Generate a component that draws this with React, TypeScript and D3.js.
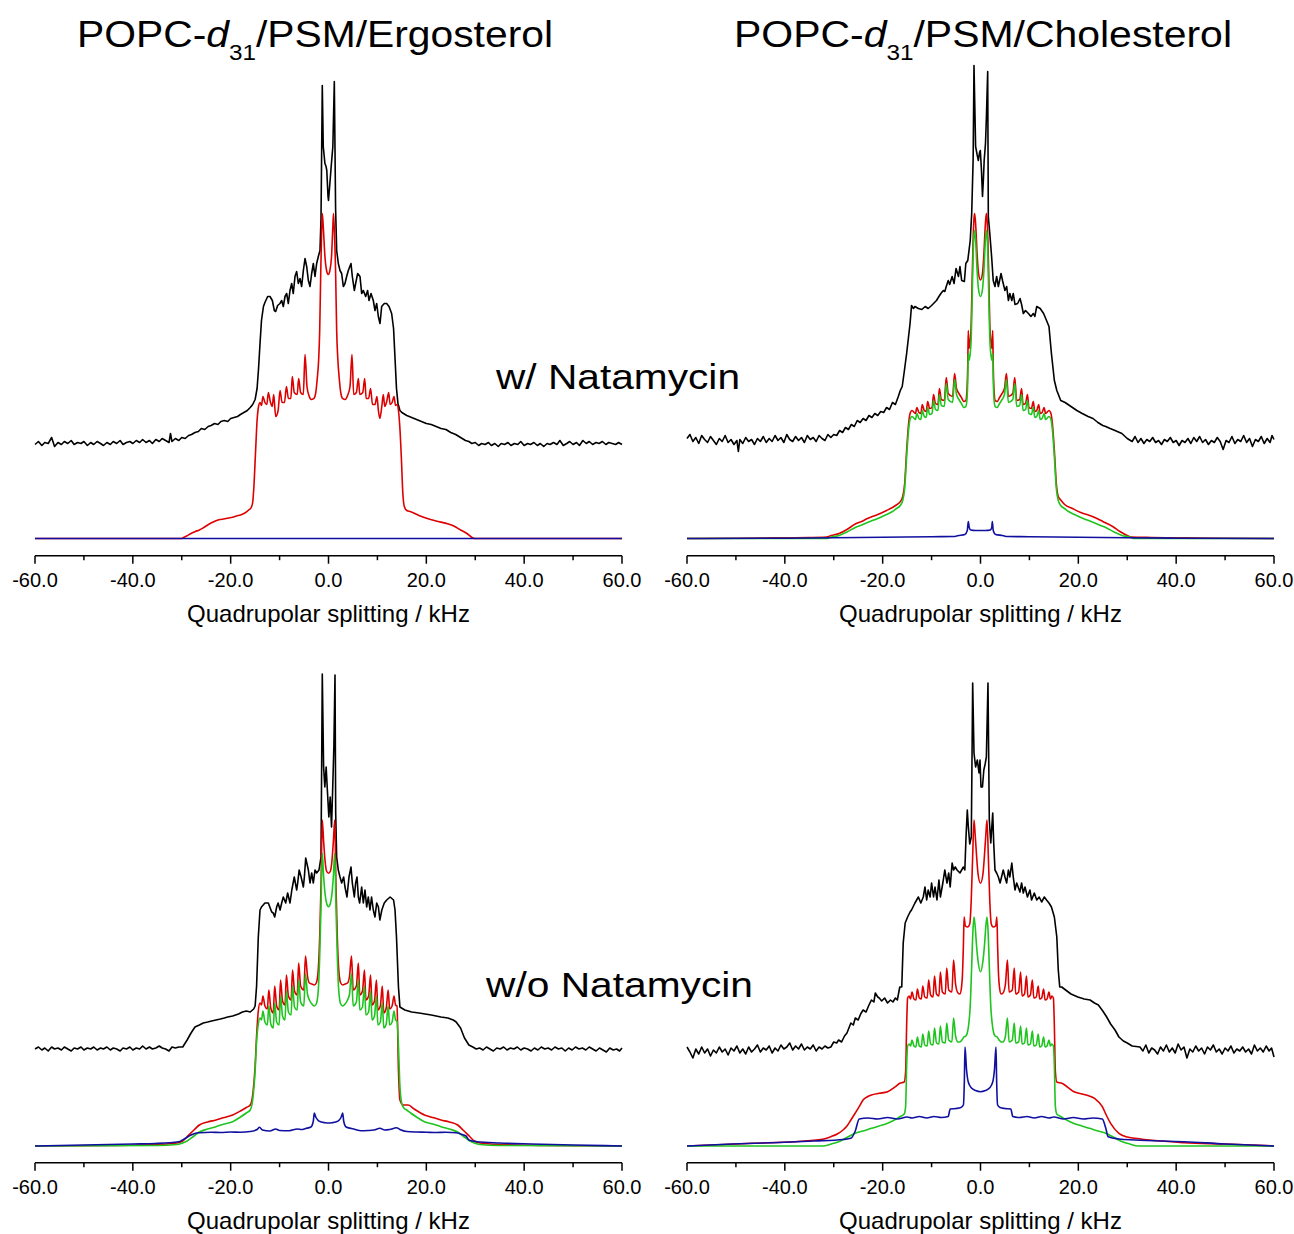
import React from "react";
import * as d3 from "d3";

type Pt = [number, number];

// ---------- axis / text content ----------
const majorTicks = [-60, -40, -20, 0, 20, 40, 60];
const minorTicks = [-50, -30, -10, 10, 30, 50];
const xAxisTitle = "Quadrupolar splitting / kHz";
const sterols = ["Ergosterol", "Cholesterol"];
const conditions = ["w/ Natamycin", "w/o Natamycin"];

// ---------- data: [splitting kHz, intensity (a.u. above baseline)] ----------
// Ergosterol, with natamycin
const ergoNataBlack: Pt[] = [
  [-60,94],[-59.3,97],[-58.6,93],[-58,96],[-57.3,95],[-56.6,101],[-56,92],[-55.3,96],[-54.6,94],[-54,97],[-53.3,95],[-52.6,98],[-52,94],[-51.3,96],[-50.6,95],[-50,97],[-49.3,93],[-48.6,96],[-48,94],[-47.3,97],[-46.6,95],[-46,93],[-45.3,96],[-44.6,94],[-44,97],[-43.3,95],[-42.6,98],[-42,94],[-41.3,96],[-40.6,97],[-40,95],[-39.3,98],[-38.6,96],[-38,99],[-37.3,96],[-36.6,98],[-36,95],[-35.3,99],[-34.6,97],[-34,100],[-33.3,98],[-32.6,96],[-32.3,105],[-32,97],[-31.3,100],[-30.6,98],[-30,101],[-29.3,100],[-28.6,103],[-28,104],[-27.3,106],[-26.6,107],[-26,110],[-25.3,109],[-24.6,112],[-24,113],[-23.3,115],[-22.6,114],[-22,117],[-21.3,118],[-20.6,117],[-20,120],[-19.3,121],[-18.6,122],[-18,124],[-17.3,126],[-16.6,128],[-16,131],[-15.5,134],[-15,139],[-14.6,150],[-14.3,170],[-14,195],[-13.7,218],[-13.3,232],[-13,236],[-12.44,242],[-11.96,242],[-11.48,238],[-11.07,228],[-10.8,227],[-10.4,233],[-9.92,235],[-9.57,238],[-9.24,232],[-8.89,242],[-8.55,245],[-8.21,235],[-7.87,248],[-7.53,255],[-7.2,245],[-6.85,262],[-6.51,267],[-6.17,255],[-5.83,260],[-5.49,252],[-5.14,268],[-4.8,280],[-4.46,272],[-4.12,258],[-3.78,252],[-3.44,265],[-3.1,275],[-2.76,262],[-2.42,275],[-2.08,282],[-1.74,288],[-1.53,320],[-1.27,453],[-1.07,392],[-0.73,375],[-0.5,372],[-0.35,368],[-0.1,342],[0,338],[0.28,355],[0.55,372],[0.89,392],[1.19,457],[1.45,330],[1.67,288],[2.01,275],[2.35,268],[2.69,265],[3.03,252],[3.37,255],[3.71,262],[4.05,268],[4.6,275],[4.87,262],[5.28,248],[5.55,255],[5.96,265],[6.44,262],[6.78,245],[7.12,248],[7.6,242],[8,248],[8.28,238],[8.69,245],[9.16,238],[9.5,228],[9.85,235],[10.19,222],[10.53,215],[10.87,232],[11.41,235],[11.89,235],[12.37,232],[12.91,225],[13.3,210],[13.6,180],[13.9,150],[14.2,135],[14.6,128],[15,126],[16,123],[17,121],[18,119],[19,117],[20,115],[21,114],[22,112],[23,110],[24,109],[25,106],[26,104],[27,101],[28,98],[28.7,97],[29.3,95],[30,96],[30.7,93],[31.3,95],[32,94],[32.7,96],[33.3,93],[34,95],[34.7,92],[35.3,95],[36,94],[36.7,96],[37.3,93],[38,95],[38.7,94],[39.3,97],[40,93],[40.7,95],[41.3,94],[42,96],[42.7,93],[43.3,95],[44,92],[44.7,95],[45.3,94],[46,96],[46.7,94],[47.3,98],[48,93],[48.7,95],[49.3,97],[50,94],[50.7,96],[51.3,93],[52,98],[52.7,95],[53.3,97],[54,94],[54.7,96],[55.3,95],[56,97],[56.7,94],[57.3,96],[58,95],[58.7,94],[59.3,96],[60,94]
];
const ergoNataRed: Pt[] = [
  [-60,0],[-30,0],[-29.8,0.5],[-29,2.5],[-28.1,5],[-27.2,7],[-26.4,8.5],[-25.5,11],[-24.7,13.5],[-23.8,16],[-23,17.8],[-22.2,19],[-21.4,19.5],[-20.5,20.5],[-19.6,21.2],[-18.8,22.5],[-18,23.5],[-17.1,25.5],[-16.3,28.5],[-15.8,31],[-15.5,36],[-15.25,52],[-14.9,88],[-14.6,118],[-14.3,132],[-14,136],
  [-13.7,133],[-13.4,142],[-13,136],
  [-12.6,134],[-12.3,146],[-11.9,137],
  [-11.5,132],[-11.2,144],[-10.8,122],
  [-10.3,128],[-9.9,148],[-9.5,136],
  [-9,136],[-8.6,152],[-8.2,140],
  [-7.7,140],[-7.4,162],[-7,146],
  [-6.4,144],[-6.1,160],[-5.7,146],
  [-5.15,144],[-4.8,184],[-4.4,152],
  [-4,143],[-3.5,139],[-3,140],[-2.6,146],[-2.3,160],[-2,180],[-1.8,208],[-1.6,262],[-1.4,308],[-1.27,325],[-1.07,312],[-0.73,282],[-0.39,268],[-0.05,264],[0.28,268],[0.62,282],[0.89,312],[1.02,325],[1.2,308],[1.47,262],[1.67,208],[1.9,180],[2.2,160],[2.5,146],[2.9,140],[3.4,139],[3.9,143],
  [4.4,152],[4.8,184],[5.15,144],
  [5.7,146],[6.1,160],[6.4,144],
  [7,146],[7.4,160],[7.7,140],
  [8.2,140],[8.6,150],[9,134],
  [9.5,134],[9.9,142],[10.2,128],[10.5,120],
  [10.9,132],[11.2,144],[11.5,132],
  [11.9,137],[12.3,146],[12.6,134],
  [13,136],[13.4,142],[13.7,133],
  [14,134],[14.3,128],[14.6,110],[14.9,80],[15.2,45],[15.5,32],[16,28],[16.8,26.8],[18.5,23],[20.2,20],[22,17.5],[24.5,14.5],[25.8,12],[27,8.5],[28.3,5],[29.5,0.5],[30,0],[60,0]
];
const ergoNataBlue: Pt[] = [[-60,0],[0,0],[60,0]];

// Cholesterol, with natamycin
const cholNataBlack: Pt[] = [
  [-60,100],[-59.4,104],[-58.8,97],[-58.2,101],[-57.6,95],[-57,103],[-56.4,99],[-55.8,96],[-55.2,102],[-54.6,98],[-54,94],[-53.4,100],[-52.8,97],[-52.2,103],[-51.6,96],[-51,99],[-50.4,94],[-49.8,98],[-49.5,87],[-49.2,99],[-48.6,95],[-48,101],[-47.4,97],[-46.8,99],[-46.2,94],[-45.6,100],[-45,97],[-44.4,102],[-43.8,96],[-43.2,100],[-42.6,97],[-42,103],[-41.4,98],[-40.8,101],[-40.2,96],[-39.6,104],[-39,99],[-38.4,97],[-37.8,102],[-37.2,98],[-36.6,101],[-36,96],[-35.4,103],[-34.8,99],[-34.2,101],[-33.6,97],[-33,103],[-32.4,100],[-31.8,98],[-31.2,104],[-30.6,101],[-30,104],[-29.4,103],[-28.8,108],[-28.2,106],[-27.6,111],[-27,109],[-26.4,114],[-25.8,112],[-25.2,118],[-24.6,116],[-24,120],[-23.4,118],[-22.8,123],[-22.2,121],[-21.6,125],[-21,123],[-20.4,127],[-19.8,126],[-19.2,131],[-18.6,129],[-18,136],[-17.4,134],[-16.8,142],[-16.4,148],[-16,152],[-15.5,170],[-15.1,185],[-14.75,200],[-14.4,215],[-14.1,233],[-13.7,230],[-13.4,232],[-12.7,230],[-12,229],[-11.3,232],[-10.7,230],[-10,233],[-9.4,236],[-9,238],[-8.5,242],[-8.1,245],[-7.6,248],[-7.3,247],[-7,252],[-6.6,258],[-6.3,254],[-5.8,262],[-5.4,255],[-5,270],[-4.5,262],[-4.2,272],[-3.85,258],[-3.3,257],[-3,275],[-2.6,278],[-2.1,298],[-1.8,325],[-1.5,380],[-1.33,473],[-1,392],[-0.7,384],[-0.44,378],[-0.2,386],[-0.04,388],[0.2,368],[0.41,342],[0.6,360],[0.75,378],[1.02,395],[1.2,420],[1.47,467],[1.6,322],[1.9,305],[2.27,282],[2.6,258],[2.96,252],[3.3,262],[3.65,252],[4.2,265],[4.5,258],[5,248],[5.35,252],[5.7,238],[6,245],[6.4,238],[6.7,245],[7.05,234],[7.6,235],[8.08,240],[8.4,234],[8.76,225],[9.2,228],[9.8,225],[10.3,222],[10.8,225],[11.1,222],[11.5,232],[12.2,230],[12.9,225],[13.5,218],[14,212],[14.5,185],[15.1,158],[15.6,148],[16.4,138],[17.3,136],[18.5,132],[19.7,128],[20.8,125],[22,122],[23,120],[24,116],[25,113],[25.6,112],[26.5,110],[27.5,108],[28.9,105],[30,100],[31,97],[31.6,102],[32.2,96],[32.8,100],[33.4,95],[34,99],[34.6,97],[35.2,101],[35.8,96],[36.4,98],[37,94],[37.6,99],[38.2,97],[38.8,101],[39.4,96],[40,98],[40.6,93],[41.2,98],[41.8,96],[42.4,100],[43,95],[43.6,101],[44.2,97],[44.8,102],[45.4,96],[46,99],[46.6,94],[47.2,98],[47.8,96],[48.4,101],[49,97],[49.6,89],[50.2,98],[50.8,96],[51.4,102],[52,95],[52.6,99],[53.2,97],[53.8,103],[54.4,96],[55,100],[55.6,92],[56.2,99],[56.8,97],[57.4,102],[58,95],[58.6,100],[59.2,96],[59.6,103],[60,99]
];
const cholNataRed: Pt[] = [
  [-60,0],[-45,0.5],[-35,1],[-31.5,1.5],[-30.5,3],[-28.9,5],[-27.3,9],[-25.6,14.5],[-24.3,17],[-23.1,20],[-21.8,22.5],[-20.5,25],[-19.2,28],[-18,31],[-17.2,33.5],[-16.4,36.8],[-15.9,42],[-15.5,55],[-15.1,88],[-14.75,112],[-14.4,125],[-14,128],
  [-13.3,125],[-13,131],[-12.6,126],
  [-12.2,125],[-11.9,134],[-11.5,128],
  [-11.1,127],[-10.8,137],[-10.4,130],
  [-9.9,131],[-9.6,144],[-9.2,135],
  [-8.7,134],[-8.4,150],[-8,139],
  [-7.4,138],[-7,161],[-6.6,145],
  [-5.7,142],[-5.3,165],[-4.9,150],
  [-4.4,145],[-3.9,141],[-3.4,137],[-3,138],[-2.75,150],[-2.6,175],[-2.5,208],[-2.35,190],[-2.15,196],[-1.9,215],[-1.7,260],[-1.5,300],[-1.33,320],[-1.2,325],[-1,315],[-0.7,285],[-0.4,265],[0,258.5],[0.4,265],[0.7,285],[1,315],[1.2,325],[1.33,320],[1.5,300],[1.7,260],[1.9,215],[2.15,196],[2.35,190],[2.5,208],[2.6,175],[2.75,150],[3,138],[3.4,137],[3.9,141],[4.4,145],
  [4.9,150],[5.3,165],[5.7,142],
  [6.6,145],[7,161],[7.4,138],
  [8,139],[8.4,150],[8.7,134],
  [9.2,135],[9.6,144],[9.9,131],
  [10.4,130],[10.8,137],[11.1,127],
  [11.5,128],[11.9,134],[12.2,125],
  [12.6,126],[13,131],[13.3,125],
  [14,128],[14.4,125],[14.75,112],[15.1,88],[15.5,55],[15.9,42],[16.4,38.5],[17.2,34],[18.8,30],[20.5,26],[23,21.8],[25,17],[27.1,11.8],[28.5,7],[30,3],[30.8,1.5],[35,1],[45,0.5],[60,0]
];
const cholNataGreen: Pt[] = [
  [-60,0],[-31.5,0],[-30.5,1.5],[-28.9,3],[-27.3,6.5],[-25.6,11],[-24.3,13.5],[-23.1,16],[-21.8,18.5],[-20.5,21],[-19.2,24],[-18,27],[-17.2,30],[-16.4,33],[-15.9,38],[-15.5,50],[-15.1,82],[-14.75,106],[-14.4,119],[-14,122],
  [-13.3,119],[-13,125],[-12.6,120],
  [-12.2,119],[-11.9,128],[-11.5,122],
  [-11.1,121],[-10.8,131],[-10.4,124],
  [-9.9,125],[-9.6,138],[-9.2,129],
  [-8.7,128],[-8.4,144],[-8,133],
  [-7.4,132],[-7,155],[-6.6,139],
  [-5.7,136],[-5.3,159],[-4.9,144],
  [-4.4,139],[-3.9,135],[-3.4,131],[-3,132],[-2.75,140],[-2.6,160],[-2.5,185],[-2.35,178],[-2.15,183],[-1.9,200],[-1.7,240],[-1.5,285],[-1.33,304],[-1.2,308],[-1,298],[-0.7,268],[-0.4,249],[0,242],[0.4,249],[0.7,268],[1,298],[1.2,308],[1.33,304],[1.5,285],[1.7,240],[1.9,200],[2.15,183],[2.35,178],[2.5,185],[2.6,160],[2.75,140],[3,132],[3.4,131],[3.9,135],[4.4,139],
  [4.9,144],[5.3,159],[5.7,136],
  [6.6,139],[7,155],[7.4,132],
  [8,133],[8.4,144],[8.7,128],
  [9.2,129],[9.6,138],[9.9,125],
  [10.4,124],[10.8,131],[11.1,121],
  [11.5,122],[11.9,128],[12.2,119],
  [12.6,120],[13,125],[13.3,119],
  [14,122],[14.4,119],[14.75,106],[15.1,82],[15.5,50],[15.9,38],[16.4,33],[17.2,30],[18,27],[19.2,24],[20.5,21],[21.8,18.5],[23.1,16],[24.3,13.5],[25.6,11],[27.3,6.5],[28.9,3],[30.5,1.5],[31.5,0],[60,0]
];
const cholNataBlue: Pt[] = [
  [-60,0],[-40,0.3],[-30,0.8],[-20,1.3],[-10,1.8],[-5.5,2],[-4.5,3],[-3.2,4],[-2.7,8],[-2.49,17],[-2.3,11],[-2,8.5],[-1,8],[0,8],[1,8],[2,8.5],[2.3,11],[2.42,17],[2.6,8],[3.1,4],[4.5,3],[5.5,2],[10,1.8],[20,1.3],[30,0.8],[40,0.3],[60,0]
];

// Ergosterol, without natamycin
const ergoFreeBlack: Pt[] = [
  [-60,97],[-59.3,99],[-58.6,96],[-58,98],[-57.3,95],[-56.6,99],[-56,97],[-55.3,98],[-54.6,96],[-54,99],[-53.3,97],[-52.6,95],[-52,98],[-51.3,97],[-50.6,99],[-50,96],[-49.3,98],[-48.6,97],[-48,99],[-47.3,96],[-46.6,98],[-46,97],[-45.3,99],[-44.6,96],[-44,98],[-43.3,97],[-42.6,95],[-42,98],[-41.3,97],[-40.6,99],[-40,96],[-39.3,98],[-38.6,97],[-38,100],[-37.3,97],[-36.6,99],[-36,97],[-35.3,98],[-34.6,100],[-34,98],[-33.3,97],[-32.6,95],[-32,99],[-31.3,98],[-30.6,99],[-29.8,99],[-28.9,106],[-28.1,113],[-27.3,119],[-26.4,121],[-25.6,123],[-24.7,124],[-23.9,125],[-23,126],[-22.1,127],[-21.3,128],[-20.6,129],[-19.6,130],[-18.4,132],[-17.6,134],[-16.8,135],[-16,134],[-15.3,137],[-15,140],[-14.7,160],[-14.35,209],[-14,236],[-13.7,239],[-13,243],[-12.3,243],[-12,239],[-11.6,234],[-11.3,233],[-11,229],[-10.6,239],[-10.3,243],[-9.9,236],[-9.57,243],[-9.24,249],[-8.75,243],[-8.35,253],[-7.87,243],[-7.5,256],[-7,269],[-6.5,256],[-6.3,263],[-6,276],[-5.6,269],[-5.14,259],[-4.93,269],[-4.66,288],[-4.12,276],[-3.78,263],[-3.44,273],[-3.1,263],[-2.76,276],[-2.42,273],[-1.94,276],[-1.53,289],[-1.27,472],[-1,379],[-0.75,359],[-0.48,379],[-0.2,353],[0.07,329],[0.35,349],[0.62,319],[0.89,363],[1.1,400],[1.33,471],[1.47,333],[1.67,289],[2,276],[2.35,269],[2.69,263],[3.1,269],[3.37,259],[3.78,249],[4.19,269],[4.6,279],[4.87,263],[5.28,249],[5.55,263],[5.83,269],[6.1,249],[6.37,243],[6.78,259],[7.12,243],[7.46,256],[7.8,239],[8.14,249],[8.48,236],[8.8,249],[9.16,236],[9.5,229],[9.85,243],[10.2,239],[10.5,226],[10.9,236],[11.4,243],[11.9,246],[12.6,249],[13.3,246],[13.6,236],[13.9,209],[14.3,159],[14.6,139],[15.6,136],[17,134],[18.5,133],[21,131],[23,129],[24.4,128],[25.5,126],[26.1,124],[27,118],[27.8,108],[28.7,101],[29.5,99],[30.2,97],[30.9,98],[31.6,96],[32.3,99],[33,97],[33.7,95],[34.4,98],[35.1,97],[35.8,99],[36.5,96],[37.2,98],[37.9,97],[38.6,99],[39.3,96],[40,98],[40.7,97],[41.4,95],[42.1,98],[42.8,96],[43.5,99],[44.2,97],[44.9,98],[45.6,96],[46.3,99],[47,97],[47.7,98],[48.4,95],[49.1,98],[49.8,96],[50.5,99],[51.2,97],[51.9,98],[52.6,96],[53.3,99],[54,97],[54.7,95],[55.4,98],[56.1,96],[56.8,94],[57.5,98],[58.2,96],[58.9,97],[59.5,95],[60,98]
];
const ergoFreeRed: Pt[] = [
  [-60,0],[-45,0.5],[-35,1.5],[-31,3],[-29.8,5],[-28.9,9.3],[-27.5,16],[-26.4,21],[-24.7,24],[-23,26],[-21.3,28.5],[-19.6,31],[-18,35],[-16.8,38.5],[-16,41],[-15.4,55],[-15,80],[-14.7,110],[-14.35,135],[-14,143],
  [-13.7,141],[-13.4,150],[-13,140],
  [-12.5,137],[-12.2,156],[-11.8,138],
  [-11.3,133],[-11,160],[-10.6,140],
  [-10.1,136],[-9.8,166],[-9.4,145],
  [-8.9,141],[-8.6,171],[-8.2,150],
  [-7.65,146],[-7.35,176],[-6.95,155],
  [-6.4,151],[-6.1,183],[-5.7,160],
  [-5.05,156],[-4.7,190],[-4.3,170],
  [-3.9,163],[-3.4,162],[-2.9,161],[-2.5,163],[-2.1,176],[-1.8,209],[-1.53,260],[-1.27,326],[-1,305],[-0.7,285],[-0.4,275],[0,272.7],[0.4,275],[0.7,285],[1,305],[1.27,326],[1.53,260],[1.8,209],[2.1,176],[2.5,163],[2.9,161],[3.4,162],[3.9,163],
  [4.3,170],[4.7,190],[5.05,156],
  [5.7,160],[6.1,183],[6.4,151],
  [6.95,155],[7.35,176],[7.65,146],
  [8.2,150],[8.6,171],[8.9,141],
  [9.4,145],[9.8,166],[10.1,136],
  [10.6,140],[11,160],[11.3,133],
  [11.8,138],[12.2,156],[12.5,137],
  [13,140],[13.4,150],[13.7,141],
  [14,140],[14.3,76],[14.6,46],[15.3,41],[16.3,41],[17.5,37],[19.6,31],[21.3,28.5],[23,26],[24.7,24],[26.4,21],[27.5,16],[28.9,9.3],[29.8,5],[31,3],[35,1.5],[45,0.5],[60,0]
];
const ergoFreeGreen: Pt[] = [
  [-60,0],[-35,0.5],[-31,1.5],[-29.8,3],[-28.9,5],[-27.5,10],[-26.4,14],[-24.7,17],[-23,19.3],[-21.3,22],[-19.6,24.3],[-18,29],[-16.8,33],[-16,36],[-15.4,50],[-15,75],[-14.7,105],[-14.35,122],[-14,128],
  [-13.7,126],[-13.4,135],[-13,124],
  [-12.5,121],[-12.2,140],[-11.8,122],
  [-11.3,118],[-11,143],[-10.6,124],
  [-10.1,121],[-9.8,150],[-9.4,130],
  [-8.9,126],[-8.6,155],[-8.2,134],
  [-7.65,131],[-7.35,160],[-6.95,139],
  [-6.4,136],[-6.1,166],[-5.7,144],
  [-5.05,140],[-4.7,172],[-4.3,152],
  [-3.9,146],[-3.4,142],[-2.9,140],[-2.5,142],[-2.1,155],[-1.8,190],[-1.53,240],[-1.27,292.7],[-1,270],[-0.7,252],[-0.4,243],[0,239.3],[0.4,243],[0.7,252],[1,270],[1.27,292.7],[1.53,240],[1.8,190],[2.1,155],[2.5,142],[2.9,140],[3.4,142],[3.9,146],
  [4.3,152],[4.7,172],[5.05,140],
  [5.7,144],[6.1,166],[6.4,136],
  [6.95,139],[7.35,160],[7.65,131],
  [8.2,134],[8.6,155],[8.9,126],
  [9.4,130],[9.8,150],[10.1,121],
  [10.6,124],[11,143],[11.3,118],
  [11.8,122],[12.2,140],[12.5,121],
  [13,124],[13.4,135],[13.7,126],
  [14,125],[14.3,100],[14.6,60],[15,42],[15.4,38],[16,36],[16.8,33],[18,29],[19.6,24.3],[21.3,22],[23,19.3],[24.7,17],[26.4,14],[27.5,10],[28.9,5],[29.8,3],[31,1.5],[35,0.5],[60,0]
];
const ergoFreeBlue: Pt[] = [
  [-60,0],[-50,1],[-40,2],[-35.5,2.5],[-30.6,4.3],[-29.5,7],[-28.1,11],[-27,13],[-26.4,13.3],[-24,13.8],[-22,13.5],[-20,14],[-18,13.8],[-16,14.5],[-14.6,16.5],[-14.1,18.7],[-13.5,16],[-12,15],[-10.8,17],[-10,15.5],[-8,15.3],[-6.4,17],[-5.5,16.5],[-4.7,17.5],[-3.6,19],[-3.1,25],[-2.9,33],[-2.6,29],[-2.2,26],[-1.5,24],[-0.7,23.3],[0,23],[0.7,23.3],[1.5,24],[2.2,26],[2.6,29],[2.9,33],[3.1,25],[3.6,19],[4.7,17.5],[5.5,16.5],[6.6,15.3],[8,15.5],[9.3,16],[10.5,17.7],[11.5,16],[12.5,16.5],[13.9,18.3],[14.6,16.5],[16,14.5],[18,14],[20,13.8],[22,13.5],[24,13.8],[26.1,13.3],[27,12],[28.1,10],[28.7,6],[30.4,4.3],[35,3],[41.5,2],[50,1],[60,0]
];

// Cholesterol, without natamycin
const cholFreeBlack: Pt[] = [
  [-60,99],[-59.4,94],[-58.8,88],[-58.2,97],[-57.6,92],[-57,99],[-56.4,93],[-55.8,97],[-55.2,90],[-54.6,96],[-54,93],[-53.4,99],[-52.8,94],[-52.2,97],[-51.6,91],[-51,98],[-50.4,95],[-49.8,100],[-49.2,93],[-48.6,97],[-48,92],[-47.4,99],[-46.8,94],[-46.2,97],[-45.6,101],[-45,94],[-44.4,98],[-43.8,96],[-43.2,100],[-42.6,93],[-42,98],[-41.4,95],[-40.8,101],[-40.2,97],[-39.6,99],[-39,103],[-38.4,96],[-37.8,100],[-37.2,97],[-36.6,102],[-36,96],[-35.4,99],[-34.8,97],[-34.2,101],[-33.6,95],[-33,99],[-32.4,97],[-31.8,100],[-31.2,98],[-30.6,99],[-30,104],[-29.4,103],[-29,106],[-28.4,104],[-27.8,110],[-27.3,113],[-26.9,118],[-26.5,123],[-26,121],[-25.6,128],[-25,126],[-24.5,132],[-24,136],[-23.4,134],[-22.8,141],[-22.3,146],[-21.8,144],[-21.5,153],[-21,149],[-20.7,148],[-20.2,145],[-19.6,148],[-19,143],[-18.4,146],[-17.9,144],[-17.4,148],[-17,146],[-16.5,159],[-16.1,159],[-15.8,203],[-15.4,223],[-14.9,229],[-14.4,234],[-14.1,236],[-13.4,243],[-12.7,249],[-12.2,243],[-11.7,249],[-11.35,259],[-11,246],[-10.7,256],[-10.3,249],[-10,263],[-9.6,249],[-9.3,259],[-8.9,246],[-8.5,266],[-8.2,249],[-7.7,263],[-7.3,276],[-6.85,263],[-6.5,273],[-6.2,259],[-5.8,283],[-5.5,276],[-5.15,279],[-4.8,276],[-4.2,273],[-3.85,276],[-3.5,279],[-3.2,276],[-2.96,309],[-2.7,336],[-2.5,320],[-2.2,302],[-1.88,309],[-1.6,463],[-1.33,393],[-1,379],[-0.65,386],[-0.3,373],[-0.1,386],[0.1,359],[0.4,359],[0.68,376],[0.95,382],[1.2,389],[1.53,463],[1.8,326],[2.1,303],[2.5,333],[2.7,303],[2.96,276],[3.3,273],[3.65,269],[4,263],[4.3,269],[4.65,276],[5,269],[5.35,263],[5.7,276],[6,269],[6.4,283],[6.7,269],[7.05,256],[7.4,263],[7.7,259],[8.06,254],[8.4,263],[8.75,253],[9.1,259],[9.6,249],[10.1,256],[10.45,246],[11,253],[11.5,246],[12,249],[12.5,244],[13.05,249],[13.5,246],[14,243],[14.5,239],[15.1,229],[15.6,209],[15.9,176],[16.2,159],[16.6,159],[17.4,156],[18.5,152],[19.9,149],[21.2,147],[22.4,146],[23.3,143],[24.1,141],[25,135],[25.8,129],[26.6,122],[27.5,116],[28.3,109],[29.2,105],[30,103],[31,100],[32.6,99],[33.2,95],[33.8,101],[34.4,93],[35,98],[35.6,96],[36.2,92],[36.8,99],[37.4,95],[38,101],[38.6,94],[39.2,98],[39.8,93],[40.4,102],[41,96],[41.6,99],[42.2,88],[42.8,97],[43.4,94],[44,100],[44.6,95],[45.2,98],[45.8,92],[46.4,99],[47,96],[47.6,101],[48.2,94],[48.8,97],[49.4,92],[50,98],[50.6,95],[51.2,100],[51.8,93],[52.4,97],[53,95],[53.6,99],[54.2,94],[54.8,97],[55.4,92],[56,101],[56.6,95],[57.2,98],[57.8,94],[58.4,100],[59,95],[59.5,98],[60,89]
];
const cholFreeRed: Pt[] = [
  [-60,0],[-50,2],[-46.5,2.7],[-38,4.3],[-32.3,6.7],[-30.6,9.3],[-29.3,12],[-28.1,16],[-27.3,20],[-26.5,26],[-25.6,33],[-24.8,39.3],[-24,46],[-23.2,49],[-22.3,51],[-20.7,52.7],[-19,54.3],[-17.4,59.3],[-16.5,62.7],[-15.6,64],[-15.3,75],[-15.1,120],[-14.9,148],[-14.6,150],
  [-14.3,147],[-14,154],[-13.6,147],
  [-13.2,146],[-12.9,157],[-12.5,148],
  [-12.1,147],[-11.8,160],[-11.4,149],
  [-10.9,148],[-10.6,166],[-10.2,151],
  [-9.7,149],[-9.4,170],[-9,152],
  [-8.5,150],[-8.2,174],[-7.8,154],
  [-7.2,152],[-6.9,178],[-6.5,156],
  [-5.85,154],[-5.5,186],[-5.1,162],
  [-4.6,153],[-4.2,152],[-3.9,158],[-3.7,170],[-3.5,200],[-3.35,229],[-3.1,220],[-2.6,219],[-2.2,222],[-1.9,245],[-1.6,290],[-1.33,326],[-1.1,312],[-0.8,290],[-0.5,272],[0,262.7],[0.5,272],[0.8,290],[1.1,312],[1.33,326],[1.6,290],[1.9,245],[2.2,222],[2.6,219],[3.1,220],[3.35,229],[3.5,200],[3.7,170],[3.9,158],[4.2,152],[4.6,153],
  [5.1,162],[5.5,186],[5.85,154],
  [6.5,156],[6.9,178],[7.2,152],
  [7.8,154],[8.2,174],[8.5,150],
  [9,152],[9.4,170],[9.7,149],
  [10.2,151],[10.6,166],[10.9,148],
  [11.4,149],[11.8,160],[12.1,147],
  [12.5,148],[12.9,157],[13.2,146],
  [13.6,147],[14,154],[14.3,147],
  [14.6,150],[14.9,148],[15.1,120],[15.3,75],[15.6,64],[16.6,62.7],[19.1,54.3],[21.6,51],[23.3,47.7],[24.9,39.3],[25.8,30],[26.6,22.7],[28.3,12.7],[30,9],[31.6,7.7],[41.7,3.3],[50,2],[60,0]
];
const cholFreeGreen: Pt[] = [
  [-60,0],[-32.3,0],[-30.5,2],[-29,4.3],[-27.3,8.5],[-25.6,12.7],[-24,15],[-22.3,17.7],[-20.7,20],[-19,22.7],[-17.6,26],[-16.5,29.3],[-15.6,32],[-15.3,40],[-15.1,80],[-14.9,100],[-14.6,102],
  [-14.3,100],[-14,106],[-13.6,100],
  [-13.2,99],[-12.9,109],[-12.5,100],
  [-12.1,99],[-11.8,112],[-11.4,101],
  [-10.9,100],[-10.6,115],[-10.2,102],
  [-9.7,101],[-9.4,118],[-9,103],
  [-8.5,102],[-8.2,120],[-7.8,104],
  [-7.2,103],[-6.9,123],[-6.5,106],
  [-5.85,104],[-5.5,128],[-5.1,110],
  [-4.6,104],[-4.2,104],[-3.8,106],[-3.4,109],[-3,110],[-2.7,113],[-2.4,122],[-2.1,140],[-1.8,180],[-1.55,215],[-1.33,229],[-1.1,220],[-0.8,200],[-0.5,185],[0,174.3],[0.5,185],[0.8,200],[1.1,220],[1.33,229],[1.55,215],[1.8,180],[2.1,140],[2.4,122],[2.7,113],[3,110],[3.4,109],[3.8,106],[4.2,104],[4.6,104],
  [5.1,110],[5.5,128],[5.85,104],
  [6.5,106],[6.9,123],[7.2,103],
  [7.8,104],[8.2,120],[8.5,102],
  [9,103],[9.4,118],[9.7,101],
  [10.2,102],[10.6,115],[10.9,100],
  [11.4,101],[11.8,112],[12.1,99],
  [12.5,100],[12.9,109],[13.2,99],
  [13.6,100],[14,106],[14.3,100],
  [14.6,102],[14.9,100],[15.1,80],[15.3,40],[15.6,32],[16.5,29.3],[17.6,26],[19,22.7],[20.7,20],[22.3,17.7],[24,15],[25.6,12.7],[27.3,8.5],[29,4.3],[30.5,2],[32.3,0],[60,0]
];
const cholFreeBlue: Pt[] = [
  [-60,0],[-50.8,2],[-42.4,3.3],[-34,5],[-28.1,6.5],[-26.5,7.7],[-25.6,15],[-24.8,27],[-23,28],[-21,27],[-19,28.5],[-17,27],[-15,29],[-14,28],[-12.5,29.5],[-11,28],[-9.5,29.5],[-8,28.5],[-6.6,29.5],[-6.2,37],[-5,37.5],[-4,38.5],[-3.5,41],[-3.3,65],[-3.17,99],[-2.85,76],[-2.5,64],[-1.84,58],[-1,55.5],[0,54.3],[1,55.5],[1.84,58],[2.5,64],[2.85,76],[3.17,99],[3.3,65],[3.5,41],[4,38.5],[5,37.5],[6.2,37],[6.6,29.5],[8,28.5],[9.5,29.5],[11,28],[12.5,29.5],[14,28],[15,29],[17,27],[19,28.5],[21,27],[23,28],[24.9,27],[25.6,18],[26.1,9.3],[28.3,7],[31.6,6],[41.7,4.3],[50,2],[60,0]
];

// ---------- styling ----------
const COLORS = { black: "#000000", red: "#dd0000", green: "#1fc41f", blue: "#1010a0" };
const FONT = "'Liberation Sans', Arial, Helvetica, sans-serif";

type Series = { data: Pt[]; color: string; smooth?: boolean };

function Panel({ left, right, baseY, axisY, series }: { left: number; right: number; baseY: number; axisY: number; series: Series[] }) {
  const x = d3.scaleLinear().domain([-60, 60]).range([left, right]);
  const y = d3.scaleLinear().domain([0, 500]).range([baseY, baseY - 500]);
  const linear = d3.line<Pt>().x((d) => x(d[0])).y((d) => y(d[1])).curve(d3.curveLinear);
  const smooth = d3.line<Pt>().x((d) => x(d[0])).y((d) => y(d[1])).curve(d3.curveMonotoneX);
  return (
    <g>
      {series.map((s, i) => (
        <path key={i} d={(s.smooth ? smooth : linear)(s.data) || ""} fill="none" stroke={s.color} strokeWidth={1.6} strokeLinejoin="round" />
      ))}
      <line x1={x(-60)} x2={x(60)} y1={axisY} y2={axisY} stroke="#000" strokeWidth={1.5} />
      {majorTicks.map((t) => (
        <g key={"M" + t}>
          <line x1={x(t)} x2={x(t)} y1={axisY} y2={axisY + 8} stroke="#000" strokeWidth={1.5} />
          <text x={x(t)} y={axisY + 31} textAnchor="middle" fontSize={20} fontFamily={FONT} fill="#000">
            {t.toFixed(1)}
          </text>
        </g>
      ))}
      {minorTicks.map((t) => (
        <line key={"m" + t} x1={x(t)} x2={x(t)} y1={axisY} y2={axisY + 4.5} stroke="#000" strokeWidth={1.5} />
      ))}
      <text x={(left + right) / 2} y={axisY + 66.5} textAnchor="middle" fontSize={24} fontFamily={FONT} fill="#000">
        {xAxisTitle}
      </text>
    </g>
  );
}

function Title({ x, y, sterol, width }: { x: number; y: number; sterol: string; width: number }) {
  return (
    <text x={x} y={y} fontSize={37} fontFamily={FONT} fill="#000" textLength={width} lengthAdjust="spacingAndGlyphs">
      POPC-<tspan fontStyle="italic">d</tspan>
      <tspan dy={13} fontSize={22}>31</tspan>
      <tspan dy={-13}>/PSM/{sterol}</tspan>
    </text>
  );
}

export default function App() {
  const L = { left: 35, right: 622 };
  const R = { left: 687, right: 1274 };
  const top = { baseY: 538.5, axisY: 555.7 };
  const bot = { baseY: 1146, axisY: 1162.7 };
  return (
    <div style={{ position: "absolute", left: 0, top: 0 }}>
      <svg width={1294} height={1234} viewBox="0 0 1294 1234" style={{ display: "block", background: "#fff" }}>
        <rect width={1294} height={1234} fill="#fff" />
        <Title x={77} y={47} sterol={sterols[0]} width={476} />
        <Title x={734} y={47} sterol={sterols[1]} width={498} />
        <Panel {...L} {...top} series={[
          { data: ergoNataBlack, color: COLORS.black },
          { data: ergoNataRed, color: COLORS.red, smooth: true },
          { data: ergoNataBlue, color: COLORS.blue },
        ]} />
        <Panel {...R} {...top} series={[
          { data: cholNataBlack, color: COLORS.black },
          { data: cholNataRed, color: COLORS.red, smooth: true },
          { data: cholNataGreen, color: COLORS.green, smooth: true },
          { data: cholNataBlue, color: COLORS.blue, smooth: true },
        ]} />
        <Panel {...L} {...bot} series={[
          { data: ergoFreeBlack, color: COLORS.black },
          { data: ergoFreeRed, color: COLORS.red, smooth: true },
          { data: ergoFreeGreen, color: COLORS.green, smooth: true },
          { data: ergoFreeBlue, color: COLORS.blue, smooth: true },
        ]} />
        <Panel {...R} {...bot} series={[
          { data: cholFreeBlack, color: COLORS.black },
          { data: cholFreeRed, color: COLORS.red, smooth: true },
          { data: cholFreeGreen, color: COLORS.green, smooth: true },
          { data: cholFreeBlue, color: COLORS.blue, smooth: true },
        ]} />
        <text x={496} y={388.5} fontSize={35} fontFamily={FONT} fill="#000" textLength={244} lengthAdjust="spacingAndGlyphs">
          {conditions[0]}
        </text>
        <text x={486} y={996.5} fontSize={35} fontFamily={FONT} fill="#000" textLength={267} lengthAdjust="spacingAndGlyphs">
          {conditions[1]}
        </text>
      </svg>
    </div>
  );
}
